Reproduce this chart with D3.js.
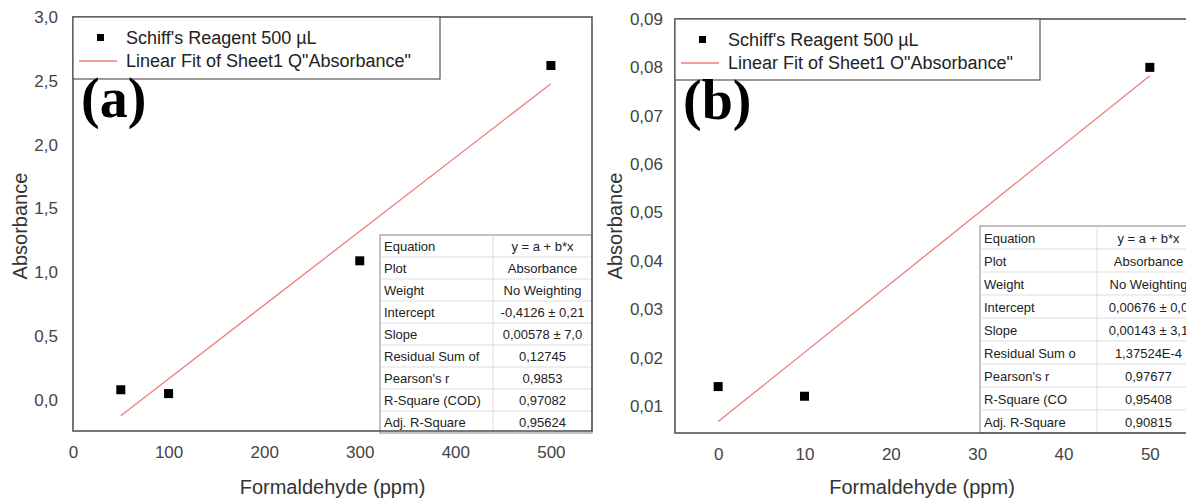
<!DOCTYPE html>
<html>
<head>
<meta charset="utf-8">
<script src="https://cdn.jsdelivr.net/npm/d3@7"></script>
<style>
  body { margin: 0; background: #fff; }
  text { font-family: "Liberation Sans", Arial, sans-serif; }
  text.letter { font-family: "Liberation Serif", "Times New Roman", serif; font-weight: bold; }
</style>
</head>
<body>
<script>
// panel (a) data
var concA = [50, 100, 300, 500];
var absA = [0.08, 0.05, 1.09, 2.62];
var interceptA = -0.4126, slopeA = 0.00578;
var xTicksA = [0, 100, 200, 300, 400, 500];
var yTicksA = [0, 0.5, 1.0, 1.5, 2.0, 2.5, 3.0];
var statNamesA = ["Equation", "Plot", "Weight", "Intercept", "Slope", "Residual Sum of",
                  "Pearson's r", "R-Square (COD)", "Adj. R-Square"];
var statValuesA = ["y = a + b*x", "Absorbance", "No Weighting", "-0,4126 ± 0,21", "0,00578 ± 7,0",
                   "0,12745", "0,9853", "0,97082", "0,95624"];

// panel (b) data
var concB = [0, 10, 50];
var absB = [0.014, 0.012, 0.080];
var interceptB = 0.00676, slopeB = 0.00143;
var xTicksB = [0, 10, 20, 30, 40, 50];
var yTicksB = [0.01, 0.02, 0.03, 0.04, 0.05, 0.06, 0.07, 0.08, 0.09];
var statNamesB = ["Equation", "Plot", "Weight", "Intercept", "Slope", "Residual Sum o",
                  "Pearson's r", "R-Square (CO", "Adj. R-Square"];
var statValuesB = ["y = a + b*x", "Absorbance", "No Weighting", "0,00676 ± 0,0", "0,00143 ± 3,1",
                   "1,37524E-4", "0,97677", "0,95408", "0,90815"];

var seriesName = "Schiff's Reagent 500 µL";

var svg = d3.select("body").append("svg")
    .attr("width", 1186)
    .attr("height", 501);

function comma(fmt) {
  var f = d3.format(fmt);
  return function(d) { return f(d).replace(".", ","); };
}

function drawPanel(p) {
  var x = d3.scaleLinear().domain(p.xDomain).range([p.left, p.right]);
  var y = d3.scaleLinear().domain(p.yDomain).range([p.bottom, p.top]);
  var g = svg.append("g");

  // axes (labels only, no tick marks)
  var xAxis = g.append("g")
      .attr("transform", "translate(0," + p.bottom + ")")
      .call(d3.axisBottom(x).tickValues(p.xTicks).tickSize(0).tickPadding(15).tickFormat(d3.format("d")));
  var yAxis = g.append("g")
      .attr("transform", "translate(" + p.left + ",0)")
      .call(d3.axisLeft(y).tickValues(p.yTicks).tickSize(0).tickPadding(p.yPad).tickFormat(comma(p.yFmt)));
  [xAxis, yAxis].forEach(function(a) {
    a.select(".domain").remove();
    a.selectAll("text").attr("font-size", 17).attr("fill", "#444");
  });

  // fit line
  var xs = d3.extent(p.conc);
  g.append("line")
      .attr("x1", x(xs[0])).attr("y1", y(p.a + p.b * xs[0]))
      .attr("x2", x(xs[1])).attr("y2", y(p.a + p.b * xs[1]))
      .attr("stroke", "#f27b7b")
      .attr("stroke-width", 1.3);

  // points
  g.selectAll(".pt")
      .data(p.conc)
    .enter().append("rect")
      .attr("x", function(d) { return x(d) - 4.5; })
      .attr("y", function(d, i) { return y(p.abs[i]) - 4.5; })
      .attr("width", 9)
      .attr("height", 9)
      .attr("fill", "#000");

  // stats table
  var t = p.table;
  var rows = g.append("g");
  rows.append("rect")
      .attr("x", t.x).attr("y", t.y)
      .attr("width", t.w).attr("height", t.rowH * p.names.length)
      .attr("fill", "#fff").attr("stroke", "#999").attr("stroke-width", 1.2);
  p.names.forEach(function(n, i) {
    var ry = t.y + i * t.rowH;
    if (i > 0) {
      rows.append("line").attr("x1", t.x).attr("x2", t.x + t.w)
        .attr("y1", ry).attr("y2", ry).attr("stroke", "#ddd");
    }
    rows.append("text").attr("x", t.x + 4).attr("y", ry + t.rowH / 2 + 5)
      .attr("font-size", 13).attr("fill", "#222").text(n);
    rows.append("text").attr("x", (t.split + t.x + t.w) / 2).attr("y", ry + t.rowH / 2 + 5)
      .attr("text-anchor", "middle").attr("font-size", 13).attr("fill", "#222").text(p.values[i]);
  });
  rows.append("line").attr("x1", t.split).attr("x2", t.split)
    .attr("y1", t.y).attr("y2", t.y + t.rowH * p.names.length).attr("stroke", "#ddd");

  // frame
  g.append("rect")
      .attr("x", p.left).attr("y", p.top)
      .attr("width", p.right - p.left).attr("height", p.bottom - p.top)
      .attr("fill", "none").attr("stroke", "#555").attr("stroke-width", 1.6);

  // legend
  var L = p.legend;
  g.append("rect")
      .attr("x", p.left).attr("y", p.top)
      .attr("width", L.w).attr("height", L.h)
      .attr("fill", "#fff").attr("stroke", "#555").attr("stroke-width", 1.2);
  g.append("rect")
      .attr("x", p.left + 24).attr("y", p.top + 17)
      .attr("width", 7).attr("height", 7).attr("fill", "#000");
  g.append("line")
      .attr("x1", p.left + 6).attr("x2", p.left + 44)
      .attr("y1", p.top + 44).attr("y2", p.top + 44)
      .attr("stroke", "#f27b7b").attr("stroke-width", 1.3);
  g.append("text").attr("x", p.left + 53).attr("y", p.top + 27)
      .attr("font-size", 18).attr("fill", "#222").text(seriesName);
  g.append("text").attr("x", p.left + 53).attr("y", p.top + 50)
      .attr("font-size", 18).attr("fill", "#222").text(p.fitName);

  // panel letter
  g.append("text")
      .attr("class", "letter")
      .attr("x", p.left + 8).attr("y", p.top + 100)
      .attr("font-size", 56)
      .attr("fill", "#000")
      .text(p.letter);

  // axis titles
  g.append("text")
      .attr("x", (p.left + p.right) / 2 + p.xTitleShift).attr("y", 494)
      .attr("text-anchor", "middle").attr("font-size", 20).attr("fill", "#333")
      .text("Formaldehyde (ppm)");
  g.append("text")
      .attr("transform", "translate(" + p.yTitleX + "," + 226 + ") rotate(-90)")
      .attr("text-anchor", "middle").attr("font-size", 20).attr("fill", "#333")
      .text("Absorbance");
}

drawPanel({
  conc: concA, abs: absA, a: interceptA, b: slopeA,
  xTicks: xTicksA, yTicks: yTicksA, yFmt: ".1f", yPad: 15,
  xDomain: [0, 543], yDomain: [-0.243, 3.0],
  left: 73, right: 592, top: 17, bottom: 431,
  names: statNamesA, values: statValuesA,
  table: {x: 380, y: 235, w: 212, split: 493, rowH: 22},
  legend: {w: 367, h: 62},
  fitName: "Linear Fit of Sheet1 Q\"Absorbance\"",
  letter: "(a)", xTitleShift: 0, yTitleX: 27
});

drawPanel({
  conc: concB, abs: absB, a: interceptB, b: slopeB,
  xTicks: xTicksB, yTicks: yTicksB, yFmt: ".2f", yPad: 12,
  xDomain: [-5, 55], yDomain: [0.0044, 0.09],
  left: 675, right: 1193, top: 19, bottom: 433,
  names: statNamesB, values: statValuesB,
  table: {x: 980, y: 226, w: 220, split: 1097, rowH: 23},
  legend: {w: 365, h: 61},
  fitName: "Linear Fit of Sheet1 O\"Absorbance\"",
  letter: "(b)", xTitleShift: -12, yTitleX: 622
});
</script>
</body>
</html>
